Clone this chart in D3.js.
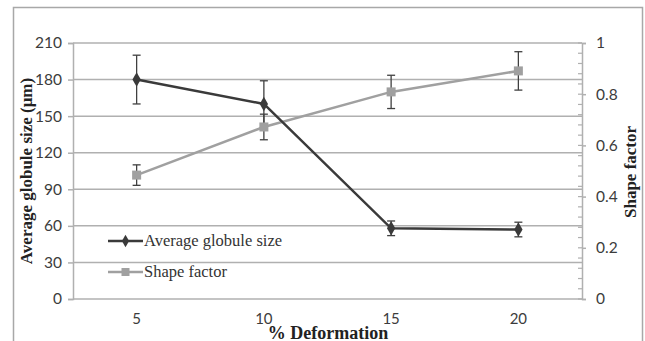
<!DOCTYPE html>
<html>
<head>
<meta charset="utf-8">
<script src="https://cdn.jsdelivr.net/npm/d3@7"></script>
<style>
  body { margin: 0; background: #fff; }
  svg { display: block; }
</style>
</head>
<body>
<svg id="chart" width="645" height="341"></svg>
<script>
// data
const deformation = ["5", "10", "15", "20"];
const globuleSize = [180, 160, 58, 57];
const globuleErr = [20, 19, 6, 6];
const shapeFactor = [0.484, 0.672, 0.809, 0.891];
const shapeErr = [0.04, 0.05, 0.065, 0.075];
const leftTicks = [0, 30, 60, 90, 120, 150, 180, 210];
const rightTicks = [0, 0.2, 0.4, 0.6, 0.8, 1];

const width = 645, height = 341;
const plot = { left: 73, right: 582, top: 43, bottom: 299 };

const svg = d3.select("#chart");

// outer frame
svg.append("rect")
    .attr("x", 13.5).attr("y", 7.5)
    .attr("width", 629).attr("height", 345)
    .attr("fill", "#fff")
    .attr("stroke", "#a8a8a8")
    .attr("stroke-width", 1.5);

const x = d3.scaleBand()
    .domain(deformation)
    .range([plot.left, plot.right]);

const yLeft = d3.scaleLinear().domain([0, 210]).range([plot.bottom, plot.top]);
const yRight = d3.scaleLinear().domain([0, 1]).range([plot.bottom, plot.top]);

const gridColor = "#b0b0b0";
const textColor = "#3c3c3c";
const tickFont = "Lato, 'Open Sans', sans-serif";
const serif = "'Liberation Serif', 'Times New Roman', serif";

// gridlines
svg.append("g")
    .selectAll("line")
    .data(leftTicks)
    .enter().append("line")
    .attr("x1", plot.left).attr("x2", plot.right)
    .attr("y1", d => yLeft(d)).attr("y2", d => yLeft(d))
    .attr("stroke", gridColor)
    .attr("stroke-width", 1.5);

// left axis
const leftAxis = svg.append("g")
    .attr("transform", "translate(" + plot.left + ",0)")
    .call(d3.axisLeft(yLeft).tickValues(leftTicks).tickSize(5).tickPadding(6));
leftAxis.select(".domain").attr("stroke", gridColor).attr("stroke-width", 1.5);
leftAxis.selectAll(".tick line").attr("stroke", gridColor).attr("stroke-width", 1.5);
leftAxis.selectAll("text")
    .attr("font-family", tickFont)
    .attr("font-size", 15.5)
    .attr("fill", textColor);

// right axis with minor ticks
const minorTicks = d3.range(0, 1.0001, 0.04);
svg.append("g")
    .selectAll("line")
    .data(minorTicks)
    .enter().append("line")
    .attr("x1", plot.right - 4).attr("x2", plot.right)
    .attr("y1", d => yRight(d)).attr("y2", d => yRight(d))
    .attr("stroke", gridColor)
    .attr("stroke-width", 1.2);

const rightAxis = svg.append("g")
    .attr("transform", "translate(" + plot.right + ",0)")
    .call(d3.axisRight(yRight).tickValues(rightTicks).tickSize(4).tickPadding(10)
        .tickFormat(d => d === 0 || d === 1 ? d3.format("d")(d) : d3.format(".1f")(d)));
rightAxis.select(".domain").attr("stroke", gridColor).attr("stroke-width", 1.5);
rightAxis.selectAll(".tick line").attr("stroke", gridColor).attr("stroke-width", 1.5);
rightAxis.selectAll("text")
    .attr("font-family", tickFont)
    .attr("font-size", 15.5)
    .attr("fill", textColor);

// x category labels
svg.append("g")
    .selectAll("text")
    .data(deformation)
    .enter().append("text")
    .attr("x", d => x(d) + x.bandwidth() / 2)
    .attr("y", 324)
    .attr("text-anchor", "middle")
    .attr("font-family", tickFont)
    .attr("font-size", 15)
    .attr("fill", textColor)
    .text(d => d);

// axis titles
svg.append("text")
    .attr("x", 328).attr("y", 338.5)
    .attr("text-anchor", "middle")
    .attr("font-family", serif)
    .attr("font-weight", "bold")
    .attr("font-size", 18)
    .attr("fill", "#222")
    .text("% Deformation");

svg.append("text")
    .attr("transform", "translate(32," + ((plot.top + plot.bottom) / 2) + ") rotate(-90)")
    .attr("text-anchor", "middle")
    .attr("font-family", serif)
    .attr("font-weight", "bold")
    .attr("font-size", 17)
    .attr("fill", "#222")
    .text("Average globule size (μm)");

svg.append("text")
    .attr("transform", "translate(636," + ((plot.top + plot.bottom) / 2 + 1) + ") rotate(-90)")
    .attr("text-anchor", "middle")
    .attr("font-family", serif)
    .attr("font-weight", "bold")
    .attr("font-size", 17)
    .attr("fill", "#222")
    .text("Shape factor");

const cx = d => x(d) + x.bandwidth() / 2;
const darkColor = "#3a3a3a";
const greyColor = "#a0a0a0";

// series lines
const sizeLine = d3.line().x((d, i) => cx(deformation[i])).y(d => yLeft(d));
const shapeLine = d3.line().x((d, i) => cx(deformation[i])).y(d => yRight(d));

svg.append("path")
    .datum(shapeFactor)
    .attr("d", shapeLine)
    .attr("fill", "none")
    .attr("stroke", greyColor)
    .attr("stroke-width", 2.5);

svg.append("path")
    .datum(globuleSize)
    .attr("d", sizeLine)
    .attr("fill", "none")
    .attr("stroke", darkColor)
    .attr("stroke-width", 2.5);

// error bars
function errorBars(values, errs, scale) {
    const g = svg.append("g")
        .attr("stroke", "#404040")
        .attr("stroke-width", 1.3);
    values.forEach((v, i) => {
        const px = cx(deformation[i]);
        const y1 = scale(v + errs[i]);
        const y2 = scale(v - errs[i]);
        g.append("line").attr("x1", px).attr("x2", px).attr("y1", y1).attr("y2", y2);
        g.append("line").attr("x1", px - 4).attr("x2", px + 4).attr("y1", y1).attr("y2", y1);
        g.append("line").attr("x1", px - 4).attr("x2", px + 4).attr("y1", y2).attr("y2", y2);
    });
}
errorBars(shapeFactor, shapeErr, yRight);
errorBars(globuleSize, globuleErr, yLeft);

// markers
svg.append("g")
    .selectAll("rect")
    .data(shapeFactor)
    .enter().append("rect")
    .attr("x", (d, i) => cx(deformation[i]) - 4.5)
    .attr("y", d => yRight(d) - 4.5)
    .attr("width", 9).attr("height", 9)
    .attr("fill", greyColor);

const diamond = d3.symbol().type(d3.symbolDiamond).size(60);
svg.append("g")
    .selectAll("path")
    .data(globuleSize)
    .enter().append("path")
    .attr("transform", (d, i) => "translate(" + cx(deformation[i]) + "," + yLeft(d) + ")")
    .attr("d", diamond)
    .attr("fill", darkColor);

// legend
const legendItems = [
    { label: "Average globule size", color: darkColor, marker: "diamond", y: 241 },
    { label: "Shape factor", color: greyColor, marker: "square", y: 272 }
];
const legend = svg.append("g");
legendItems.forEach(item => {
    legend.append("line")
        .attr("x1", 108).attr("x2", 143)
        .attr("y1", item.y).attr("y2", item.y)
        .attr("stroke", item.color)
        .attr("stroke-width", 2.5);
    if (item.marker === "diamond") {
        legend.append("path")
            .attr("transform", "translate(125.5," + item.y + ")")
            .attr("d", d3.symbol().type(d3.symbolDiamond).size(45))
            .attr("fill", item.color);
    } else {
        legend.append("rect")
            .attr("x", 121.5).attr("y", item.y - 4)
            .attr("width", 8).attr("height", 8)
            .attr("fill", item.color);
    }
    legend.append("text")
        .attr("x", 144).attr("y", item.y + 5)
        .attr("font-family", serif)
        .attr("font-size", 16.5)
        .attr("fill", "#333")
        .text(item.label);
});
</script>
</body>
</html>
